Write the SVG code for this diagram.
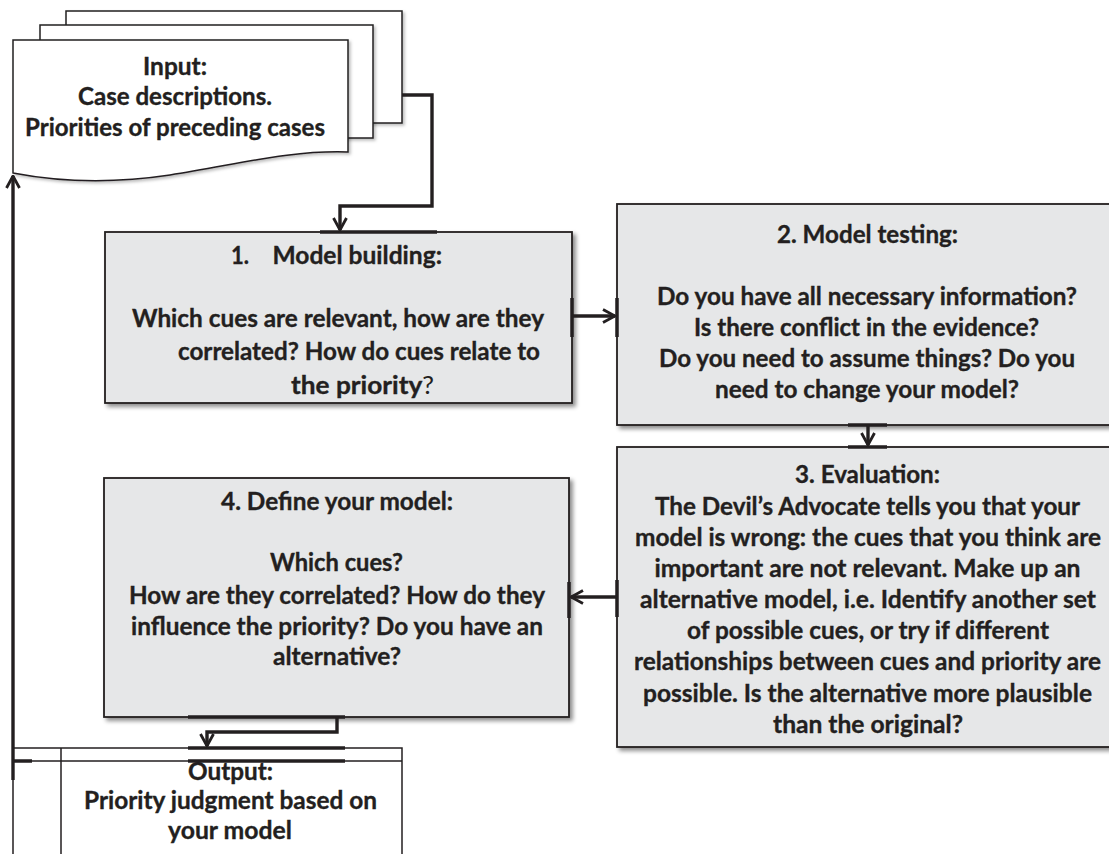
<svg xmlns="http://www.w3.org/2000/svg" width="1109" height="854" viewBox="0 0 1109 854">
<style>
.t{font-family:Lato,"Liberation Sans",sans-serif;font-weight:700;font-size:24.5px;fill:#231f20;stroke:#231f20;stroke-width:0.35}
.q{font-weight:400;stroke-width:0}
.box{fill:#e6e7e8;stroke:#231f20;stroke-width:1.8;filter:url(#sh)}
.sheet{fill:#fff;stroke:#231f20;stroke-width:1.5;filter:url(#sh2)}
.ln{fill:none;stroke:#231f20;stroke-width:1.5}
.conn{fill:none;stroke:#231f20;stroke-width:3.4;marker-end:url(#ah)}
.tick{stroke:#231f20;stroke-width:3.5}
</style>
<defs>
<filter id="sh" x="-5%" y="-5%" width="115%" height="115%">
<feDropShadow dx="3" dy="3" stdDeviation="2" flood-color="#000" flood-opacity="0.45"/>
</filter>
<filter id="sh2" x="-5%" y="-5%" width="115%" height="115%">
<feDropShadow dx="2" dy="2" stdDeviation="1.5" flood-color="#000" flood-opacity="0.25"/>
</filter>
<marker id="ah" viewBox="0 0 14 16" refX="13" refY="8" markerWidth="14" markerHeight="16" markerUnits="userSpaceOnUse" orient="auto">
<path d="M1,1.5 L13,8 L1,14.5" fill="none" stroke="#231f20" stroke-width="2.8"/>
</marker>
</defs>
<rect width="1109" height="854" fill="#fff"/>

<g id="input">
<rect class="sheet" x="66" y="11" width="336" height="112"/>
<rect class="sheet" x="40" y="25" width="333" height="113"/>
<path class="sheet" d="M13,40 H348 V152 C290,150 240,164 170,175 C110,184 60,182 13,173 Z"/>
<text class="t" x="143" y="75" textLength="64" lengthAdjust="spacingAndGlyphs">Input:</text>
<text class="t" x="78" y="105" textLength="194" lengthAdjust="spacingAndGlyphs">Case descriptions.</text>
<text class="t" x="25" y="136" textLength="300" lengthAdjust="spacingAndGlyphs">Priorities of preceding cases</text>
</g>

<g id="box1">
<rect class="box" x="105" y="232" width="467" height="171"/>
<text class="t" x="231" y="264" textLength="18" lengthAdjust="spacingAndGlyphs">1.</text>
<text class="t" x="272.5" y="264" textLength="169.5" lengthAdjust="spacingAndGlyphs">Model building:</text>
<text class="t" x="132" y="327" textLength="412" lengthAdjust="spacingAndGlyphs">Which cues are relevant, how are they</text>
<text class="t" x="178" y="360" textLength="362" lengthAdjust="spacingAndGlyphs">correlated? How do cues relate to</text>
<text class="t" x="291" y="394" textLength="143" lengthAdjust="spacingAndGlyphs">the priority<tspan class="q">?</tspan></text>
</g>

<g id="box2">
<rect class="box" x="617" y="204" width="503" height="221"/>
<text class="t" x="777" y="243" textLength="181" lengthAdjust="spacingAndGlyphs">2. Model testing:</text>
<text class="t" x="657" y="305" textLength="420" lengthAdjust="spacingAndGlyphs">Do you have all necessary information?</text>
<text class="t" x="694" y="336" textLength="345" lengthAdjust="spacingAndGlyphs">Is there conflict in the evidence?</text>
<text class="t" x="659" y="367" textLength="416" lengthAdjust="spacingAndGlyphs">Do you need to assume things? Do you</text>
<text class="t" x="715" y="398" textLength="304" lengthAdjust="spacingAndGlyphs">need to change your model?</text>
</g>

<g id="box3">
<rect class="box" x="617" y="447" width="503" height="300"/>
<text class="t" x="795" y="483" textLength="145" lengthAdjust="spacingAndGlyphs">3. Evaluation:</text>
<text class="t" x="655" y="515" textLength="425" lengthAdjust="spacingAndGlyphs">The Devil’s Advocate tells you that your</text>
<text class="t" x="635" y="546" textLength="466" lengthAdjust="spacingAndGlyphs">model is wrong: the cues that you think are</text>
<text class="t" x="654.5" y="577" textLength="426" lengthAdjust="spacingAndGlyphs">important are not relevant. Make up an</text>
<text class="t" x="640" y="608" textLength="456" lengthAdjust="spacingAndGlyphs">alternative model, i.e. Identify another set</text>
<text class="t" x="687" y="639" textLength="362" lengthAdjust="spacingAndGlyphs">of possible cues, or try if different</text>
<text class="t" x="634" y="670" textLength="467" lengthAdjust="spacingAndGlyphs">relationships between cues and priority are</text>
<text class="t" x="643" y="702" textLength="449" lengthAdjust="spacingAndGlyphs">possible. Is the alternative more plausible</text>
<text class="t" x="773" y="733" textLength="190" lengthAdjust="spacingAndGlyphs">than the original?</text>
</g>

<g id="box4">
<rect class="box" x="104" y="478" width="465" height="239"/>
<text class="t" x="221" y="510" textLength="232" lengthAdjust="spacingAndGlyphs">4. Define your model:</text>
<text class="t" x="270" y="571" textLength="133" lengthAdjust="spacingAndGlyphs">Which cues?</text>
<text class="t" x="129" y="604" textLength="416" lengthAdjust="spacingAndGlyphs">How are they correlated? How do they</text>
<text class="t" x="131" y="635" textLength="412" lengthAdjust="spacingAndGlyphs">influence the priority? Do you have an</text>
<text class="t" x="273" y="665" textLength="128" lengthAdjust="spacingAndGlyphs">alternative?</text>
</g>

<g id="output">
<path class="ln" d="M13,854 V748 H402 V854 M13,761 H402 M61,748 V854"/>
<text class="t" x="188" y="780" textLength="85" lengthAdjust="spacingAndGlyphs">Output:</text>
<text class="t" x="84" y="809" textLength="293" lengthAdjust="spacingAndGlyphs">Priority judgment based on</text>
<text class="t" x="168" y="839" textLength="124" lengthAdjust="spacingAndGlyphs">your model</text>
</g>

<g id="connectors">
<path class="tick" d="M320,232 H437 M572,298 V337 M617,298 V337 M848,425 H887 M848,447 H887 M617,580 V617 M569,582 V618 M188,717 H345 M188,748 H345 M188,761 H345 M13,761 H32"/>
<path class="conn" d="M402,95 H432 V206 H340 V230"/>
<path class="conn" d="M572,316 H615"/>
<path class="conn" d="M868,425 V445"/>
<path class="conn" d="M617,597 H571"/>
<path class="conn" d="M337,717 V732 H207 V746"/>
<path class="conn" d="M13,780 V176"/>
</g>
</svg>
